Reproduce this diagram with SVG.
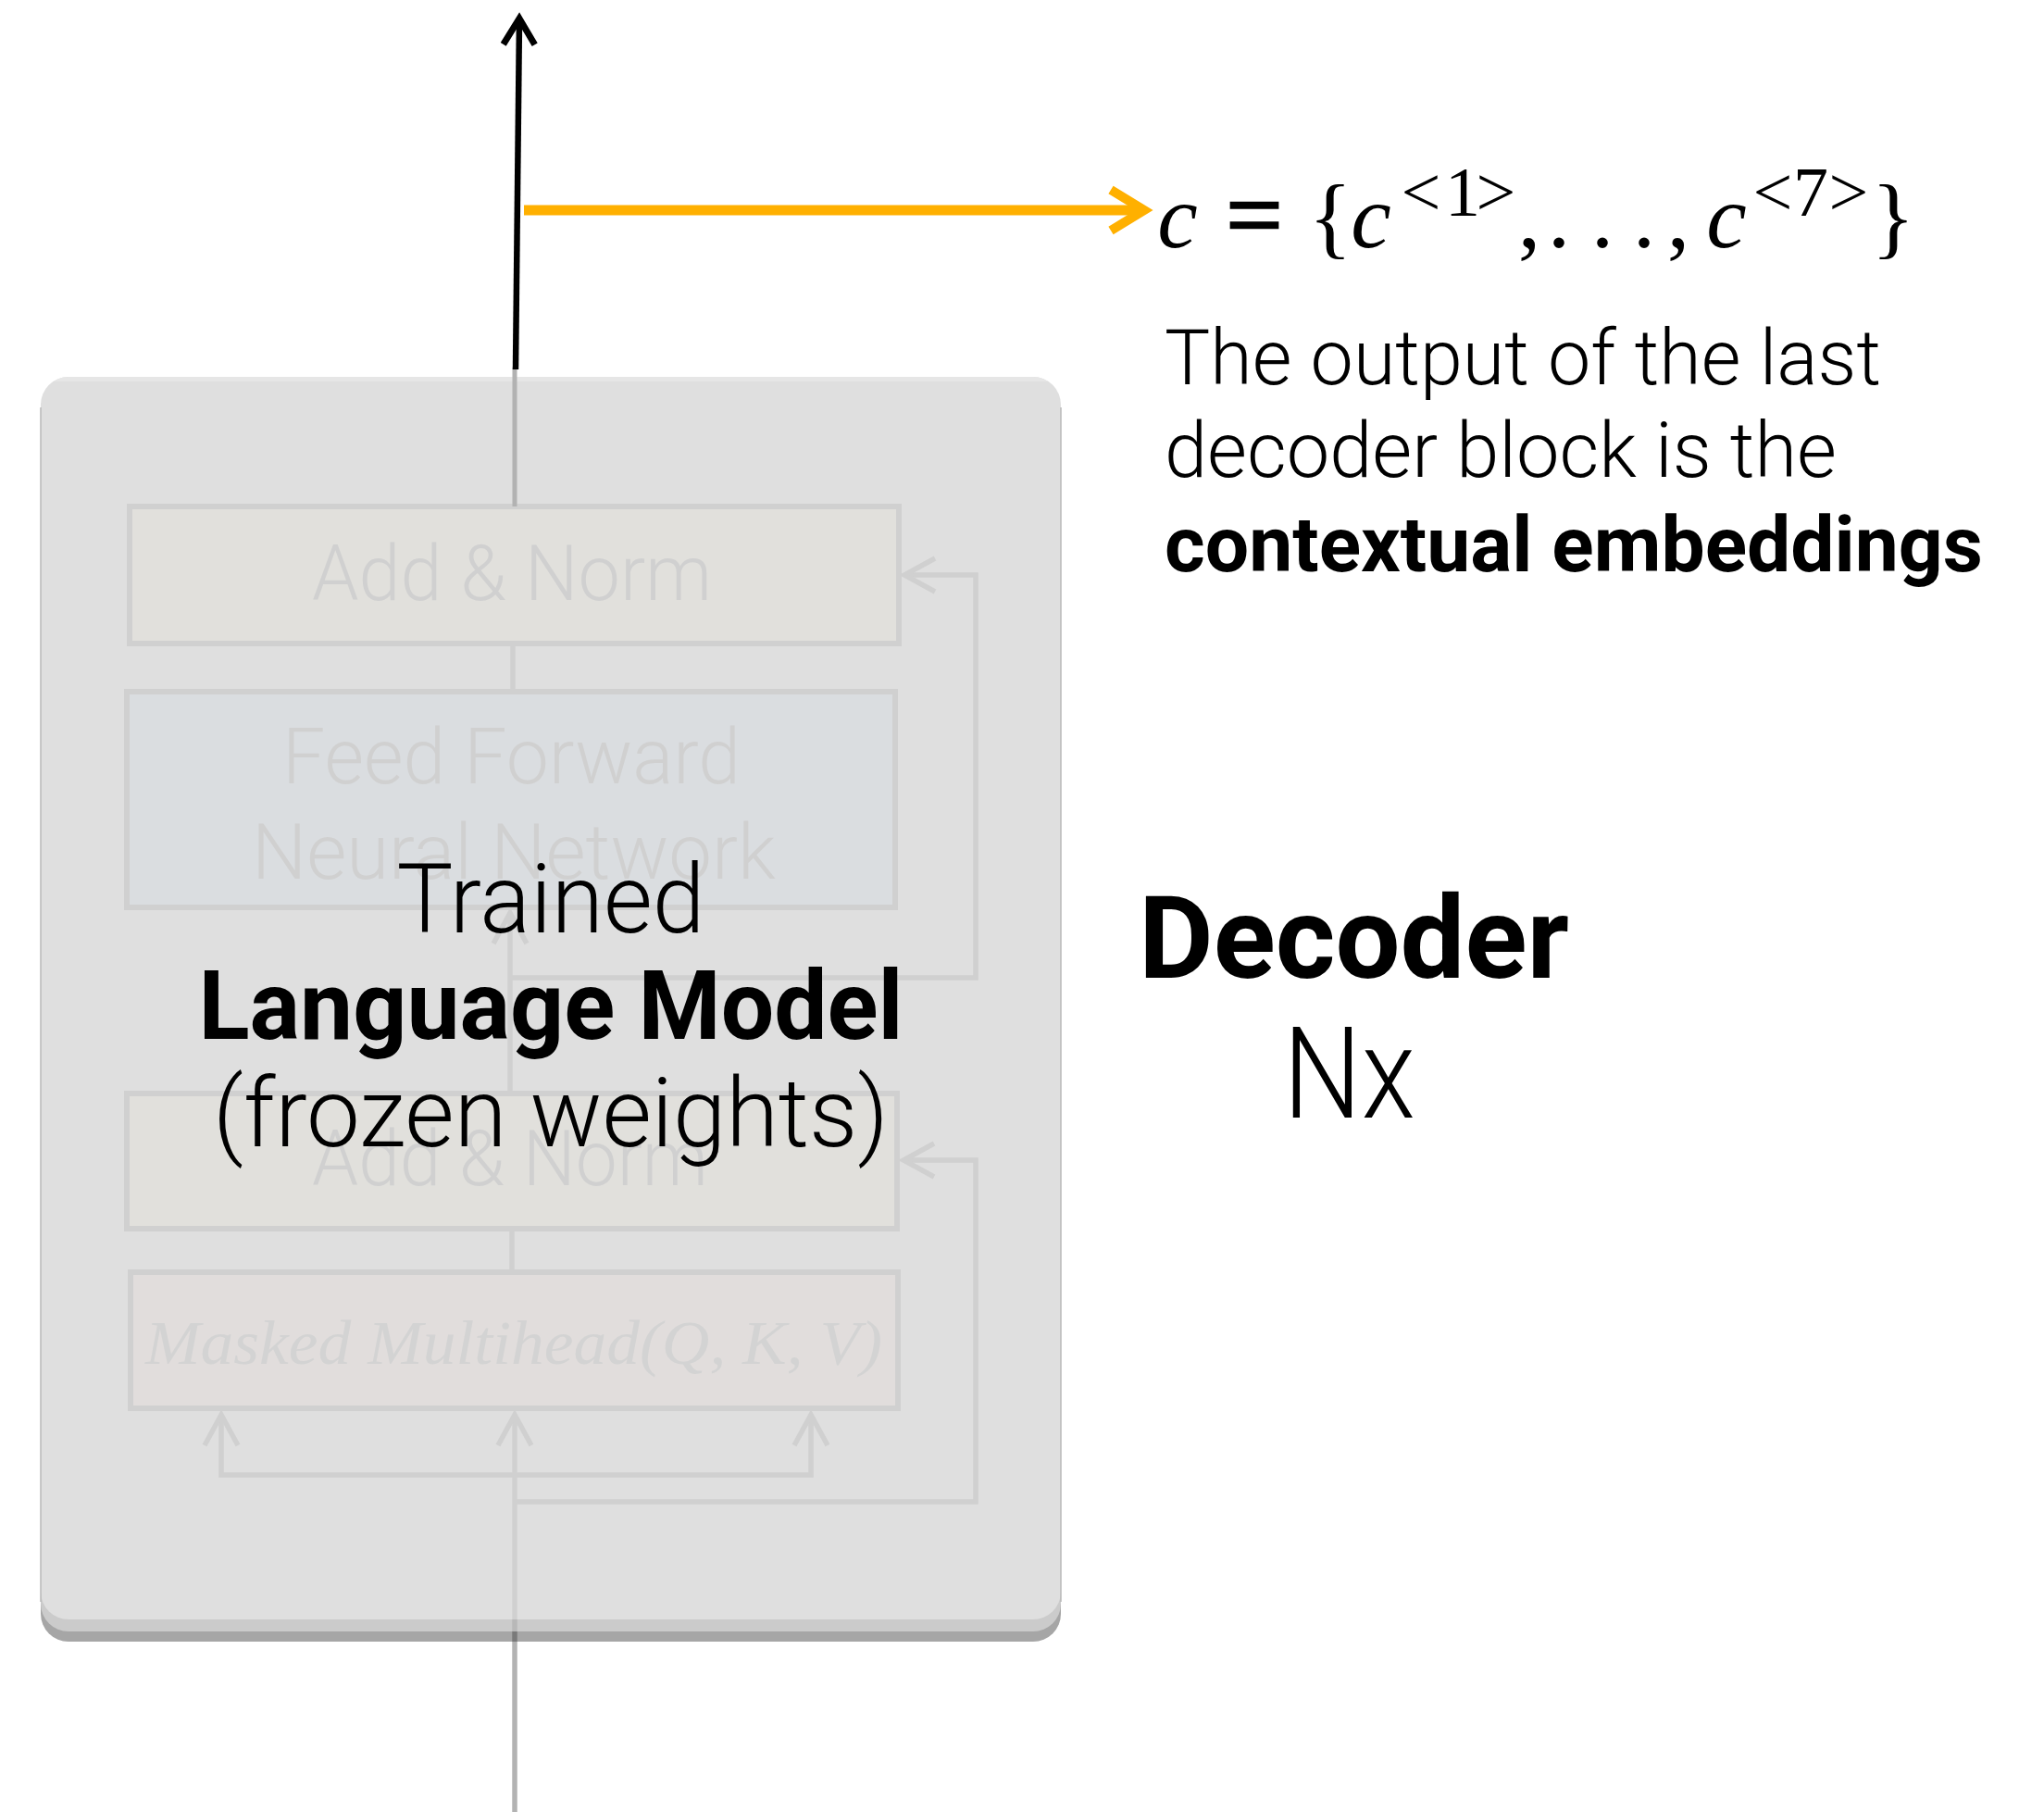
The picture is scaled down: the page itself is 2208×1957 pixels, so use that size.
<svg xmlns="http://www.w3.org/2000/svg" width="2208" height="1957" viewBox="0 0 2208 1957">
  <style>
    .sans { font-family: Roboto, "Liberation Sans", sans-serif; }
    .light { font-weight: 300; }
    .bold { font-weight: 700; }
    .math { font-family: "Liberation Serif", "Times New Roman", serif; fill: #000; }
    .it { font-style: italic; }
    .sup { font-size: 76px; }
    .ghost-box { stroke: #d0d0d0; stroke-width: 6; }
    .ghost-text { fill: #d0d0d0; font-size: 84px; }
    .ghost-line { fill: none; stroke: #d0d0d0; stroke-width: 5.5; }
  </style>
  <defs>
    <marker id="chev-ghost" viewBox="-40 -25 50 50" refX="0" refY="0" markerWidth="50" markerHeight="50" markerUnits="userSpaceOnUse" orient="auto">
      <path d="M-33,-18 L0,0 L-33,18" fill="none" stroke="#d0d0d0" stroke-width="5.5"/>
    </marker>
    <marker id="chev-black" viewBox="-40 -25 50 50" refX="0" refY="0" markerWidth="50" markerHeight="50" markerUnits="userSpaceOnUse" orient="auto">
      <path d="M-28,-17 L0,0 L-28,17" fill="none" stroke="#000" stroke-width="7"/>
    </marker>
    <marker id="chev-orange" viewBox="-50 -30 60 60" refX="0" refY="0" markerWidth="60" markerHeight="60" markerUnits="userSpaceOnUse" orient="auto">
      <path d="M-36,-22 L0,0 L-36,22" fill="none" stroke="#ffb000" stroke-width="10"/>
    </marker>
  </defs>

  <rect width="2208" height="1957" fill="#ffffff"/>

  <!-- frozen language model panel with raised shadow -->
  <g id="lm-panel">
    <rect x="44" y="440" width="1102" height="1333" rx="30" fill="#a6a6a6"/>
    <rect x="44" y="430" width="1102" height="1332" rx="30" fill="#cbcbcb"/>
    <rect x="44" y="407" width="1102" height="1342" rx="30" fill="#dfdfdf"/>
    <path d="M74,407 H1116 A30,30 0 0 1 1132,412 H58 A30,30 0 0 1 74,407 Z" fill="#e6e6e6"/>
    <line x1="44" y1="440" x2="44" y2="1730" stroke="#b8b8b8" stroke-width="1.5"/>
    <line x1="1146" y1="440" x2="1146" y2="1730" stroke="#b8b8b8" stroke-width="1.5"/>
  </g>

  <!-- faded decoder block inside the panel -->
  <g id="add-norm-top">
    <rect class="ghost-box" x="140" y="547" width="831" height="148" fill="#e1e0dc"/>
    <text class="sans light ghost-text" x="337" y="648" textLength="432" lengthAdjust="spacingAndGlyphs">Add &amp; Norm</text>
  </g>
  <g id="feed-forward">
    <rect class="ghost-box" x="137" y="747" width="830" height="233" fill="#dadde0"/>
    <text class="sans light ghost-text" x="305" y="846" textLength="495" lengthAdjust="spacingAndGlyphs">Feed Forward</text>
    <text class="sans light ghost-text" x="272" y="949" textLength="566" lengthAdjust="spacingAndGlyphs">Neural Network</text>
  </g>
  <g id="add-norm-bottom">
    <rect class="ghost-box" x="137" y="1181" width="832" height="146" fill="#e1e0dc"/>
    <text class="sans light ghost-text" x="337" y="1280" textLength="428" lengthAdjust="spacingAndGlyphs">Add &amp; Norm</text>
  </g>
  <g id="masked-attention">
    <rect class="ghost-box" x="141" y="1374" width="829" height="147" fill="#e1dddc"/>
    <text class="math it" x="157" y="1473" font-size="68" style="fill:#d3d3d3" textLength="796" lengthAdjust="spacingAndGlyphs">Masked Multihead(Q, K, V)</text>
  </g>

  <g id="connectors">
    <!-- inner decoder wiring -->
    <line class="ghost-line" x1="554" y1="697" x2="554" y2="747"/>
    <line class="ghost-line" x1="553" y1="1330" x2="553" y2="1371"/>
    <path class="ghost-line" d="M551,1178 V986" marker-end="url(#chev-ghost)"/>
    <path class="ghost-line" d="M551,1056 H1054 V621 H977" marker-end="url(#chev-ghost)"/>
    <path class="ghost-line" d="M556,1622 H1054 V1253 H976" marker-end="url(#chev-ghost)"/>
    <path class="ghost-line" d="M556,1749 V1528" marker-end="url(#chev-ghost)"/>
    <path class="ghost-line" d="M556,1593 H239 V1528" marker-end="url(#chev-ghost)"/>
    <path class="ghost-line" d="M556,1593 H876 V1528" marker-end="url(#chev-ghost)"/>
    <!-- input line running below the panel -->
    <line x1="556" y1="1749" x2="556" y2="1762" stroke="#b8b8b8" stroke-width="5.5"/>
    <line x1="556" y1="1762" x2="556" y2="1773" stroke="#7a7a7a" stroke-width="5.5"/>
    <line x1="556" y1="1773" x2="556" y2="1957" stroke="#b3b3b3" stroke-width="5.5"/>
    <!-- output line leaving the panel -->
    <line x1="556" y1="397" x2="556" y2="547" stroke="#b2b2b2" stroke-width="5"/>
    <path d="M557,399 L561,20" fill="none" stroke="#000" stroke-width="6.5" marker-end="url(#chev-black)"/>
    <path d="M566,227 H1236" fill="none" stroke="#ffb000" stroke-width="11" marker-end="url(#chev-orange)"/>
  </g>

  <!-- panel caption -->
  <g id="lm-caption" class="sans" fill="#000">
    <text class="light" x="595" y="1007" font-size="104" text-anchor="middle" textLength="333" lengthAdjust="spacingAndGlyphs">Trained</text>
    <text class="bold" x="595" y="1122" font-size="104" text-anchor="middle" textLength="761" lengthAdjust="spacingAndGlyphs">Language Model</text>
    <text class="light" x="595" y="1238" font-size="104" text-anchor="middle" textLength="730" lengthAdjust="spacingAndGlyphs">(frozen weights)</text>
  </g>

  <!-- contextual embedding set -->
  <g id="embeddings-formula" class="math" font-size="98" text-anchor="middle">
    <text class="it" x="1272" y="267">c</text>
    <text x="1355" y="268" stroke="#000" stroke-width="2.5" font-size="108">=</text>
    <text x="1437" y="267">{</text>
    <text class="it" x="1481" y="267">c</text>
    <text class="sup" x="1535" y="233">&lt;</text>
    <text class="sup" x="1580" y="233">1</text>
    <text class="sup" x="1616" y="233">&gt;</text>
    <text x="1652" y="267">,</text>
    <text x="1684" y="267">.</text>
    <text x="1731" y="267">.</text>
    <text x="1776" y="267">.</text>
    <text x="1813" y="267">,</text>
    <text class="it" x="1865" y="267">c</text>
    <text class="sup" x="1915" y="233">&lt;</text>
    <text class="sup" x="1956" y="233">7</text>
    <text class="sup" x="1997" y="233">&gt;</text>
    <text x="2045" y="267">}</text>
  </g>

  <g id="embeddings-note" class="sans" fill="#000" font-size="84">
    <text class="light" x="1258" y="415" textLength="774" lengthAdjust="spacingAndGlyphs">The output of the last</text>
    <text class="light" x="1258" y="515" textLength="726" lengthAdjust="spacingAndGlyphs">decoder block is the</text>
    <text class="bold" x="1258" y="617" textLength="884" lengthAdjust="spacingAndGlyphs">contextual embeddings</text>
  </g>

  <g id="decoder-label" class="sans" fill="#000">
    <text class="bold" x="1230" y="1056" font-size="125" textLength="465" lengthAdjust="spacingAndGlyphs">Decoder</text>
    <text class="light" x="1386" y="1207" font-size="138" textLength="143" lengthAdjust="spacingAndGlyphs">Nx</text>
  </g>
</svg>
